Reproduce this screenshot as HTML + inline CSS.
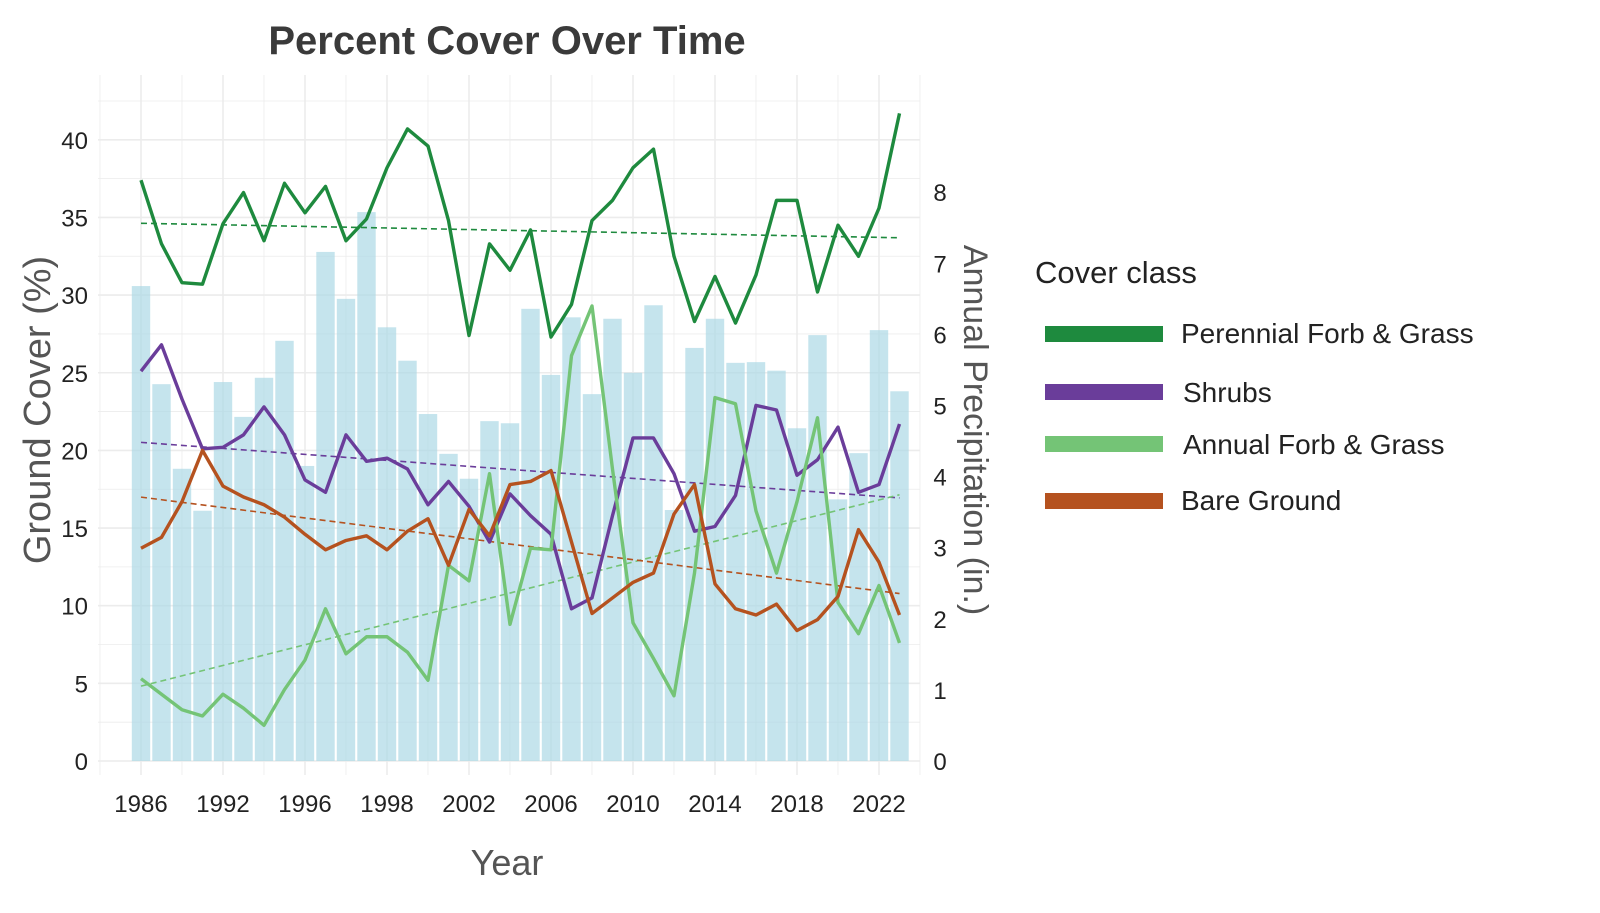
<!DOCTYPE html>
<html><head><meta charset="utf-8"><style>
body{margin:0;background:#fff;}
svg text{font-family:"Liberation Sans",sans-serif;}
</style></head><body>
<svg id="chart" width="1600" height="908" viewBox="0 0 1600 908" xmlns="http://www.w3.org/2000/svg">
<rect width="1600" height="908" fill="#fff"/>
<text x="507" y="54" text-anchor="middle" font-size="40" font-weight="bold" fill="#3a3a3a">Percent Cover Over Time</text>
<g id="grid"></g><g id="bars"></g><g id="trends"></g><g id="lines"></g><g id="axes"></g>
<text transform="translate(50,410) rotate(-90)" text-anchor="middle" font-size="38" fill="#555">Ground Cover (%)</text>
<text transform="translate(964,430) rotate(90)" text-anchor="middle" font-size="34" fill="#555">Annual Precipitation (in.)</text>
<text x="507" y="875" text-anchor="middle" font-size="36" fill="#555">Year</text>
<g>
<text x="1035" y="283" font-size="31" fill="#222">Cover class</text>
<g><rect x="1045" y="326" width="118" height="16" fill="#1e8a3e"/><text x="1181" y="343" font-size="28" fill="#222">Perennial Forb &amp; Grass</text></g>
<g><rect x="1045" y="384" width="118" height="16" fill="#6a3d9a"/><text x="1183" y="402" font-size="28" fill="#222">Shrubs</text></g>
<g><rect x="1045" y="436" width="118" height="16" fill="#74c476"/><text x="1183" y="454" font-size="28" fill="#222">Annual Forb &amp; Grass</text></g>
<g><rect x="1045" y="493" width="118" height="16" fill="#b5521f"/><text x="1181" y="510" font-size="28" fill="#222">Bare Ground</text></g>
</g>
</svg>
<script>
const years=[1986,1987,1988,1989,1990,1991,1992,1993,1994,1995,1996,1997,1998,1999,2000,2001,2002,2003,2004,2005,2006,2007,2008,2009,2010,2011,2012,2013,2014,2015,2016,2017,2018,2019,2020,2021,2022,2023];
const perennial=[37.4,33.3,30.8,30.7,34.6,36.6,33.5,37.2,35.3,37.0,33.5,34.9,38.2,40.7,39.6,34.8,27.4,33.3,31.6,34.2,27.3,29.4,34.8,36.1,38.2,39.4,32.5,28.3,31.2,28.2,31.3,36.1,36.1,30.2,34.5,32.5,35.6,41.7];
const shrubs=[25.1,26.8,23.3,20.1,20.2,21.0,22.8,21.0,18.1,17.3,21.0,19.3,19.5,18.8,16.5,18.0,16.4,14.1,17.2,15.8,14.6,9.8,10.5,15.8,20.8,20.8,18.5,14.8,15.1,17.1,22.9,22.6,18.4,19.4,21.5,17.3,17.8,21.7];
const annual=[5.3,4.3,3.3,2.9,4.3,3.4,2.3,4.6,6.5,9.8,6.9,8.0,8.0,7.0,5.2,12.6,11.6,18.5,8.8,13.7,13.6,26.1,29.3,18.8,8.9,6.6,4.2,12.1,23.4,23.0,16.1,12.1,16.7,22.1,10.2,8.2,11.3,7.6];
const bare=[13.7,14.4,16.7,20.0,17.7,17.0,16.5,15.7,14.6,13.6,14.2,14.5,13.6,14.8,15.6,12.6,16.2,14.5,17.8,18.0,18.7,14.1,9.5,10.5,11.5,12.1,15.9,17.8,11.4,9.8,9.4,10.1,8.4,9.1,10.6,14.9,12.8,9.4];
const precip=[6.68,5.30,4.11,3.52,5.33,4.84,5.39,5.91,4.15,7.16,6.50,7.72,6.10,5.63,4.88,4.32,3.97,4.78,4.75,6.36,5.43,6.24,5.16,6.22,5.46,6.41,3.53,5.81,6.22,5.60,5.61,5.49,4.68,5.99,3.68,4.33,6.06,5.20];
const xTickYears=[1986,1990,1994,1998,2002,2006,2010,2014,2018,2022];
const xTickLabels=["1986","1992","1996","1998","2002","2006","2010","2014","2018","2022"];
const yTicks=[0,5,10,15,20,25,30,35,40];
const y2Ticks=[0,1,2,3,4,5,6,7,8];

const NS="http://www.w3.org/2000/svg";
const X=y=>141+(y-1986)*20.5;
const Y=v=>761-v*15.53;
const Y2=v=>761-v*71.1;
function mk(tag,attrs,parent){const e=document.createElementNS(NS,tag);for(const k in attrs)e.setAttribute(k,attrs[k]);document.getElementById(parent).appendChild(e);return e;}

// grid
for(let v=0;v<=42.5;v+=2.5){const l=mk('line',{x1:98,x2:920,y1:Y(v),y2:Y(v),stroke:'#ececec','stroke-width':v%5===0?1.6:0.8},'grid');

}
for(let yr=1984;yr<=2024;yr+=2){const l=mk('line',{x1:X(yr),x2:X(yr),y1:75,y2:775,stroke:'#ececec','stroke-width':(yr-1986)%4===0?1.6:0.8},'grid');

}
// bars
years.forEach((yr,i)=>{const r=mk('rect',{x:X(yr)-9.2,y:Y2(precip[i]),width:18.4,height:761-Y2(precip[i]),fill:'#add8e6','fill-opacity':0.7},'bars');

});
// trends & lines
const series=[['perennial',perennial,'#1e8a3e'],['shrubs',shrubs,'#6a3d9a'],['annual',annual,'#74c476'],['bare-ground',bare,'#b5521f']];
series.forEach(([nm,arr,col])=>{
 const n=arr.length;let mx=0,my=0;years.forEach((y,i)=>{mx+=y;my+=arr[i];});mx/=n;my/=n;
 let sxy=0,sxx=0;years.forEach((y,i)=>{sxy+=(y-mx)*(arr[i]-my);sxx+=(y-mx)*(y-mx);});
 const b=sxy/sxx,a=my-b*mx;const y0=years[0],y1=years[n-1];
 const t=mk('line',{x1:X(y0),y1:Y(a+b*y0),x2:X(y1),y2:Y(a+b*y1),stroke:col,'stroke-width':1.6,'stroke-dasharray':'6 4'},'trends');
 
 
});
series.forEach(([nm,arr,col])=>{
 const p=mk('polyline',{points:years.map((y,i)=>X(y)+','+Y(arr[i])).join(' '),fill:'none',stroke:col,'stroke-width':3.4,'stroke-linejoin':'round'},'lines');
 
 
});
// axes labels
yTicks.forEach(v=>{const t=mk('text',{x:88,y:Y(v)+9,'text-anchor':'end','font-size':24,fill:'#222'},'axes');t.textContent=v;

});
y2Ticks.forEach(v=>{const t=mk('text',{x:940,y:Y2(v)+9,'text-anchor':'middle','font-size':24,fill:'#222'},'axes');t.textContent=v;

});
xTickYears.forEach((yr,i)=>{const t=mk('text',{x:X(yr),y:812,'text-anchor':'middle','font-size':24,fill:'#222'},'axes');t.textContent=xTickLabels[i];

});
</script>
</body></html>
